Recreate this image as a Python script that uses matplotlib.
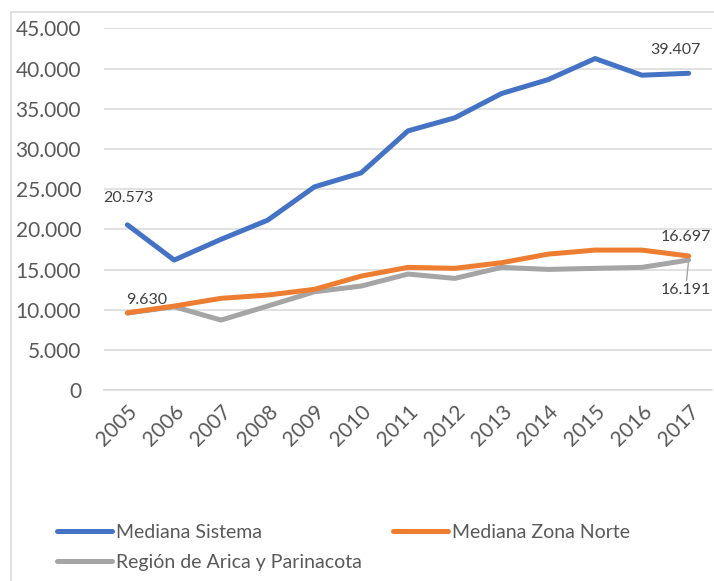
import matplotlib
matplotlib.use("Agg")
import matplotlib.pyplot as plt
from matplotlib.patches import Rectangle

plt.rcParams['font.family'] = ['Lato', 'DejaVu Sans']

years = ['2005', '2006', '2007', '2008', '2009', '2010', '2011', '2012',
         '2013', '2014', '2015', '2016', '2017']
mediana_sistema = [20573, 16190, 18760, 21150, 25290, 27030, 32250, 33870,
                   36890, 38630, 41240, 39170, 39407]
mediana_zona_norte = [9630, 10470, 11430, 11840, 12550, 14200, 15280, 15160,
                      15860, 16930, 17430, 17430, 16697]
region_arica = [9600, 10390, 8730, 10470, 12250, 12960, 14450, 13910,
                15280, 15030, 15160, 15280, 16191]
series_names = ['Mediana Sistema', 'Mediana Zona Norte', 'Región de Arica y Parinacota']
colors = ['#4472C4', '#ED7D31', '#A5A5A5']
y_ticks = [0, 5000, 10000, 15000, 20000, 25000, 30000, 35000, 40000, 45000]
y_tick_labels = ['0', '5.000', '10.000', '15.000', '20.000', '25.000',
                 '30.000', '35.000', '40.000', '45.000']

W, H = 714, 581
fig = plt.figure(figsize=(W / 100, H / 100), dpi=100)
ax = fig.add_axes([104 / W, 1 - 390.3 / H, (712 - 104) / W, (390.3 - 28.3) / H])

x = list(range(len(years)))
lines = []
for vals, name, c in zip([mediana_sistema, mediana_zona_norte, region_arica], series_names, colors):
    ln, = ax.plot(x, vals, color=c, lw=3.6, solid_capstyle='round',
                  solid_joinstyle='round', label=name, zorder=3)
    lines.append(ln)
lines[1].set_zorder(4)

ax.set_xlim(-0.5, len(years) - 0.5)
ax.set_ylim(0, 45000)
ax.set_yticks(y_ticks)
ax.set_yticklabels(y_tick_labels)
ax.set_xticks(x)
ax.set_xticklabels(years, rotation=45, ha='right', rotation_mode='anchor')
ax.tick_params(axis='both', length=0, labelsize=15, labelcolor='#595959')
ax.tick_params(axis='y', pad=16.5)
ax.tick_params(axis='x', pad=8)
ax.grid(axis='y', color='#D9D9D9', lw=1.1, zorder=0)
for s in ax.spines.values():
    s.set_visible(False)
ax.spines['bottom'].set_visible(True)
ax.spines['bottom'].set_color('#D9D9D9')
ax.spines['bottom'].set_linewidth(1.1)

lab_kw = dict(textcoords='offset pixels', ha='center', va='center',
              fontsize=11.5, color='#404040', zorder=5)
ax.annotate('20.573', (0, mediana_sistema[0]), xytext=(1, 27), **lab_kw)
ax.annotate('39.407', (12, mediana_sistema[-1]), xytext=(-13, 23), **lab_kw)
ax.annotate('16.697', (12, mediana_zona_norte[-1]), xytext=(-3, 19), **lab_kw)
ax.annotate('9.630', (0, mediana_zona_norte[0]), xytext=(19, 13), **lab_kw)
ax.annotate('16.191', (12, region_arica[-1]), xytext=(-3, -30),
            arrowprops=dict(arrowstyle='-', color='#A5A5A5', lw=1,
                            shrinkA=0, shrinkB=2), **lab_kw)

handles = [lines[0], lines[2], lines[1]]
fig.legend(handles, [h.get_label() for h in handles], ncol=2,
           loc='upper left', bbox_to_anchor=(57 / W, 1 - 524 / H),
           frameon=False, fontsize=14, labelcolor='#595959',
           handlelength=2.83, handletextpad=0.2, columnspacing=1.6,
           labelspacing=0.68, borderpad=0, borderaxespad=0)

fig.patches.append(Rectangle((11 / W, -0.05), 1.0, 1 - 12 / H + 0.05,
                             transform=fig.transFigure, fill=False,
                             edgecolor='#D9D9D9', lw=1.1))

fig.savefig('out.png', dpi=100)
